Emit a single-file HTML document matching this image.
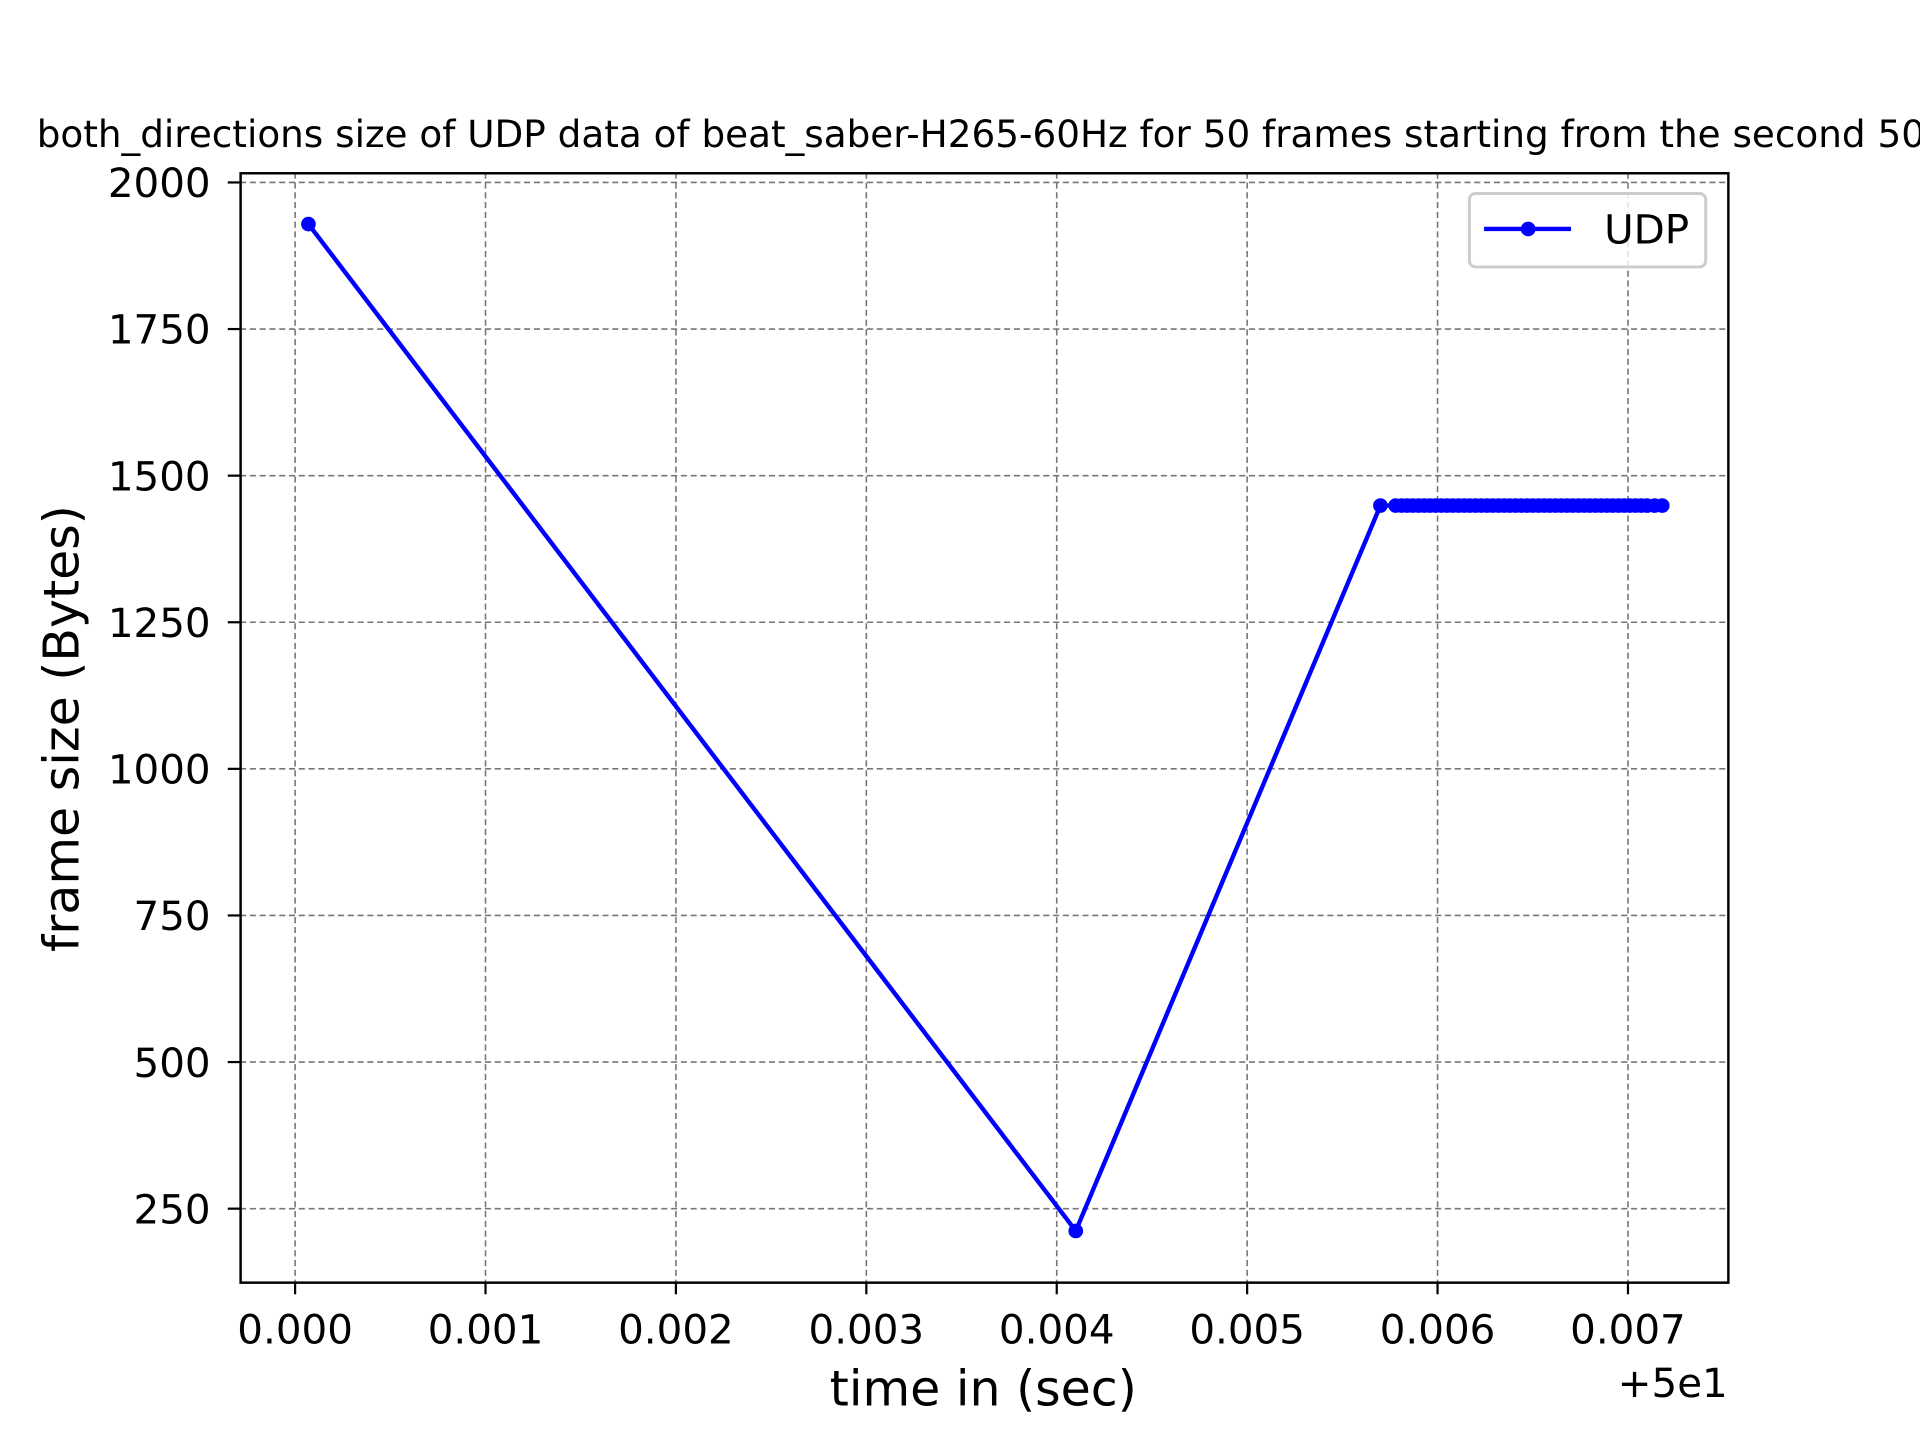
<!DOCTYPE html>
<html><head><meta charset="utf-8"><style>
html,body{margin:0;padding:0;background:#fff;overflow:hidden;}
svg{display:block;font-family:"DejaVu Sans","Liberation Sans",sans-serif;}
</style></head><body>
<svg id="chart" width="1920" height="1440" viewBox="0 0 1568 1176" xmlns="http://www.w3.org/2000/svg">
<rect width="1568" height="1176" fill="#fff"/>
<text x="30" y="120" font-size="30.5" fill="#000">both_directions size of UDP data of beat_saber-H265-60Hz for 50 frames starting from the second 50</text>
<g id="grid"></g>
<g id="ticks"></g>
<path id="series-line" fill="none" stroke="#0000ff" stroke-width="3.6" stroke-linejoin="round"/>
<g id="markers"></g>
<rect x="196.5" y="141.5" width="1215" height="906" fill="none" stroke="#000" stroke-width="2"/>
<text x="803" y="1148" font-size="40" text-anchor="middle">time in (sec)</text>
<text x="1411" y="1141" font-size="33" text-anchor="end">+5e1</text>
<text transform="translate(64,595) rotate(-90)" font-size="40" text-anchor="middle">frame size (Bytes)</text>
<g>
<rect x="1200" y="158" width="193" height="60" rx="5" fill="#fff" fill-opacity="0.8" stroke="#ccc" stroke-width="2.4"/>
<line x1="1212" y1="187" x2="1283" y2="187" stroke="#0000ff" stroke-width="3.6"/>
<circle cx="1248" cy="187" r="6" fill="#0000ff"/>
<text x="1310" y="199" font-size="33">UDP</text>
</g>
</svg>
<script>
const xTicks = [0.000,0.001,0.002,0.003,0.004,0.005,0.006,0.007];
const xTickLabels = ["0.000","0.001","0.002","0.003","0.004","0.005","0.006","0.007"];
const yTicks = [250,500,750,1000,1250,1500,1750,2000];
const yTickLabels = ["250","500","750","1000","1250","1500","1750","2000"];
const times = [0.00007,0.0041,0.0057,0.00578,0.00581,0.00584,0.00587,0.0059,0.00593,0.00596,0.00599,0.00602,0.00605,0.00608,0.00611,0.00614,0.00617,0.0062,0.00623,0.00626,0.00629,0.00632,0.00635,0.00638,0.00641,0.00644,0.00647,0.0065,0.00653,0.00656,0.00659,0.00662,0.00665,0.00668,0.00671,0.00674,0.00677,0.0068,0.00683,0.00686,0.00689,0.00692,0.00695,0.00698,0.00701,0.00704,0.00707,0.0071,0.00714,0.00718];
const sizes = [1929,212,1449,1449,1449,1449,1449,1449,1449,1449,1449,1449,1449,1449,1449,1449,1449,1449,1449,1449,1449,1449,1449,1449,1449,1449,1449,1449,1449,1449,1449,1449,1449,1449,1449,1449,1449,1449,1449,1449,1449,1449,1449,1449,1449,1449,1449,1449,1449,1449];
const NS='http://www.w3.org/2000/svg';
function xs(v){return 241+(v-0)*155500;}
function ys(v){return 149+(2000-v)*0.4789;}
function mk(tag,attrs,parent){const e=document.createElementNS(NS,tag);for(const k in attrs)e.setAttribute(k,attrs[k]);parent.appendChild(e);return e;}
const grid=document.getElementById('grid'),ticks=document.getElementById('ticks');
xTicks.forEach((t,i)=>{const x=xs(t);
 const g=mk('line',{x1:x,x2:x,y1:141,y2:1047,stroke:'#777','stroke-width':1.3,'stroke-dasharray':'5,3'},grid);
 
 
 const tk=mk('line',{x1:x,x2:x,y1:1047,y2:1057,stroke:'#000','stroke-width':1.8},ticks);
 
 
 const tl=mk('text',{x:x,y:1097,'font-size':33,'text-anchor':'middle'},ticks);tl.textContent=xTickLabels[i];
 
 
});
yTicks.forEach((t,i)=>{const y=ys(t);
 const g=mk('line',{x1:196,x2:1411,y1:y,y2:y,stroke:'#777','stroke-width':1.3,'stroke-dasharray':'5,3'},grid);
 
 
 const tk=mk('line',{x1:186,x2:196,y1:y,y2:y,stroke:'#000','stroke-width':1.8},ticks);
 
 
 const tl=mk('text',{x:172,y:y+12,'font-size':33,'text-anchor':'end'},ticks);tl.textContent=yTickLabels[i];
 
 
});
let d='';times.forEach((t,i)=>{d+=(i?'L':'M')+xs(t)+' '+ys(sizes[i]);});
document.getElementById('series-line').setAttribute('d',d);
const markers=document.getElementById('markers');
times.forEach((t,i)=>{const c=mk('circle',{cx:xs(t),cy:ys(sizes[i]),r:6,fill:'#0000ff'},markers);
 
 
});
</script>
</body></html>
